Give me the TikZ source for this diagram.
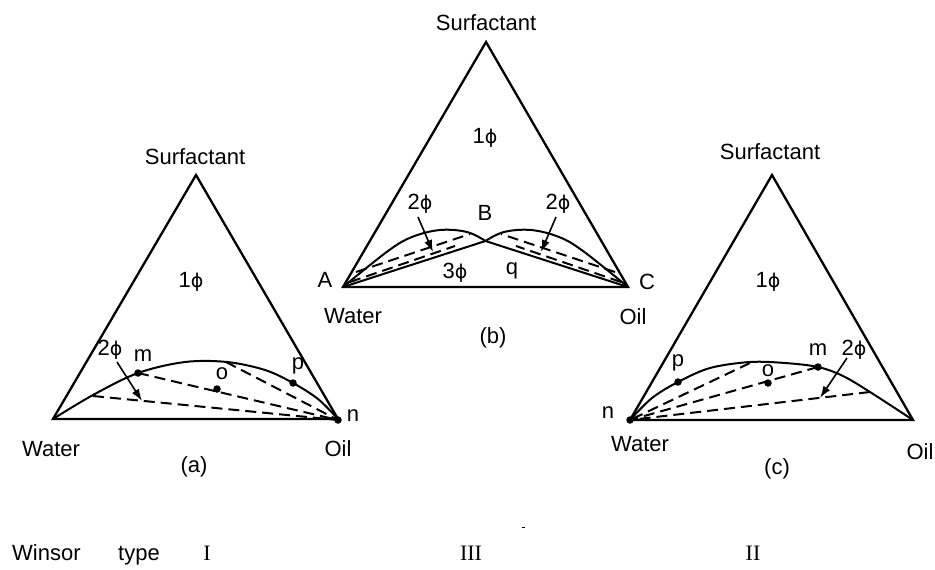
\documentclass[tikz,border=0pt]{standalone}
\usepackage{fontspec}
\setmainfont{Liberation Sans}
\newfontfamily\romfont{Liberation Serif}
\newfontfamily\phifont{DejaVu Sans}
\newcommand{\phs}{{\phifont\fontsize{19}{24}\selectfont ϕ}}
\usetikzlibrary{arrows.meta}
\begin{document}
\begin{tikzpicture}[x=1pt,y=-1pt,
  edge/.style={line width=2.3pt, line join=miter},
  bin/.style={line width=2pt},
  tie/.style={line width=2pt, dash pattern=on 11pt off 6pt},
  ptr/.style={line width=1.6pt, -{Latex[length=12pt,width=8pt]}},
  lbl/.style={font=\fontsize{22}{26}\selectfont, inner sep=0pt},
  rom/.style={font=\romfont\fontsize{22}{26}\selectfont, inner sep=0pt, anchor=base},
  dotc/.style={circle, fill=black, inner sep=0pt, minimum size=7.5pt}]
\useasboundingbox (0,0) rectangle (935,570);

% ---------------- (a) Winsor I ----------------
\coordinate (aS) at (196,175);
\coordinate (aW) at (53,419);
\coordinate (aO) at (338,419);
\coordinate (aTop) at (226,362);
\coordinate (aLeft) at (93,396);
\coordinate (aArrS) at (117,362);
\coordinate (aArrE) at (142,401);
\draw[edge] (aW) -- (aS) -- (aO) -- cycle;
\draw[bin] plot[smooth, tension=0.55] coordinates {(53,419) (93,395) (138,373) (185,362) (227,362) (265,370) (293,383) (318,399) (338,419)};
\node[dotc] (am) at (138,373) {};
\node[dotc] (ao) at (217,389) {};
\node[dotc] (ap) at (293,383) {};
\node[dotc] (an) at (338,420) {};
\draw[tie] (am.center) -- (an.center);
\draw[tie] (aTop) -- (an.center);
\draw[tie] (aLeft) -- (an.center);
\draw[ptr] (aArrS) -- (aArrE);
\node[lbl] (aSurf) at (195,157) {Surfactant};
\node[lbl] (a1p) at (191,282) {1\phs};
\node[lbl] (aWat) at (51,449) {Water};
\node[lbl] (aOil) at (338,449) {Oil};
\node[lbl] (aCap) at (194,467) {(a)};
\node[lbl] (anl) at (353,416) {n};
\node[lbl] (a2p) at (110,350) {2\phs};
\node[lbl] (aml) at (143,356) {m};
\node[lbl] (aol) at (222,374) {o};
\node[lbl] (apl) at (298,366) {p};

% ---------------- (b) Winsor III ----------------
\coordinate (bS) at (486,42);
\coordinate (bA) at (343,287);
\coordinate (bC) at (628,287);
\coordinate (bB) at (485.5,241);
\draw[edge] (bA) -- (bS) -- (bC) -- cycle;
\draw[bin] plot[smooth, tension=0.6] coordinates {(343,287) (388,251) (412,237) (440,230) (467,232) (485.5,241)} -- (bC);
\draw[bin] plot[smooth, tension=0.6] coordinates {(628,287) (583,251) (559,237) (531,230) (504,232) (485.5,241)} -- (bA);
\coordinate (bL1s) at (356,272);
\coordinate (bL1) at (470,234);
\coordinate (bL2s) at (350,282);
\coordinate (bL2) at (455,246);
\coordinate (bR1s) at (615,272);
\coordinate (bR1) at (501,234);
\coordinate (bR2s) at (621,282);
\coordinate (bR2) at (516,246);
\draw[tie] (bL1s) -- (bL1);
\draw[tie] (bL2s) -- (bL2);
\draw[tie] (bR1s) -- (bR1);
\draw[tie] (bR2s) -- (bR2);
\coordinate (bArrLS) at (418,217);
\coordinate (bArrLE) at (433,252);
\coordinate (bArrRS) at (556,217);
\coordinate (bArrRE) at (541,252);
\draw[ptr] (bArrLS) -- (bArrLE);
\draw[ptr] (bArrRS) -- (bArrRE);
\node[lbl] (bSurf) at (486,23) {Surfactant};
\node[lbl] (b1p) at (485,138) {1\phs};
\node[lbl] (b2pL) at (420,204) {2\phs};
\node[lbl] (b2pR) at (558,204) {2\phs};
\node[lbl] (bBl) at (485,213) {B};
\node[lbl] (b3p) at (455,273) {3\phs};
\node[lbl] (bq) at (512,271) {q};
\node[lbl] (bAl) at (325,280) {A};
\node[lbl] (bCl) at (647,282) {C};
\node[lbl] (bWat) at (353,316) {Water};
\node[lbl] (bOil) at (633,317) {Oil};
\node[lbl] (bCap) at (493,338) {(b)};

% ---------------- (c) Winsor II ----------------
\coordinate (cS) at (772,175);
\coordinate (cW) at (630,420);
\coordinate (cO) at (913,420);
\coordinate (cTop) at (750,363);
\coordinate (cRight) at (870,392);
\coordinate (cArrS) at (847,358);
\coordinate (cArrE) at (820,398);
\draw[edge] (cW) -- (cS) -- (cO) -- cycle;
\draw[bin] plot[smooth, tension=0.55] coordinates {(630,420) (652,398) (678,382) (710,368) (750,362) (785,363) (818,367) (843,376) (870,392) (913,420)};
\node[dotc] (cp) at (678,382) {};
\node[dotc] (co) at (768,383) {};
\node[dotc] (cm) at (818,367) {};
\node[dotc] (cn) at (630,420) {};
\draw[tie] (cm.center) -- (cn.center);
\draw[tie] (cTop) -- (cn.center);
\draw[tie] (cRight) -- (cn.center);
\draw[ptr] (cArrS) -- (cArrE);
\node[lbl] (cSurf) at (770,152) {Surfactant};
\node[lbl] (c1p) at (768,282) {1\phs};
\node[lbl] (cpl) at (678,363) {p};
\node[lbl] (col) at (768,371) {o};
\node[lbl] (cml) at (818,350) {m};
\node[lbl] (c2p) at (854,350) {2\phs};
\node[lbl] (cnl) at (608,413) {n};
\node[lbl] (cWat) at (640,444) {Water};
\node[lbl] (cOil) at (920,452) {Oil};
\node[lbl] (cCap) at (777,469) {(c)};

% ---------------- bottom row ----------------
\fill (521.5,526.5) rectangle (524.5,528);
\node[lbl, anchor=base west] (win) at (12,560) {Winsor};
\node[lbl, anchor=base west] (typ) at (118,560) {type};
\node[rom] (r1) at (207,560) {I};
\node[rom] (r3) at (471,560) {III};
\node[rom] (r2) at (753,560) {II};
\end{tikzpicture}
\end{document}
